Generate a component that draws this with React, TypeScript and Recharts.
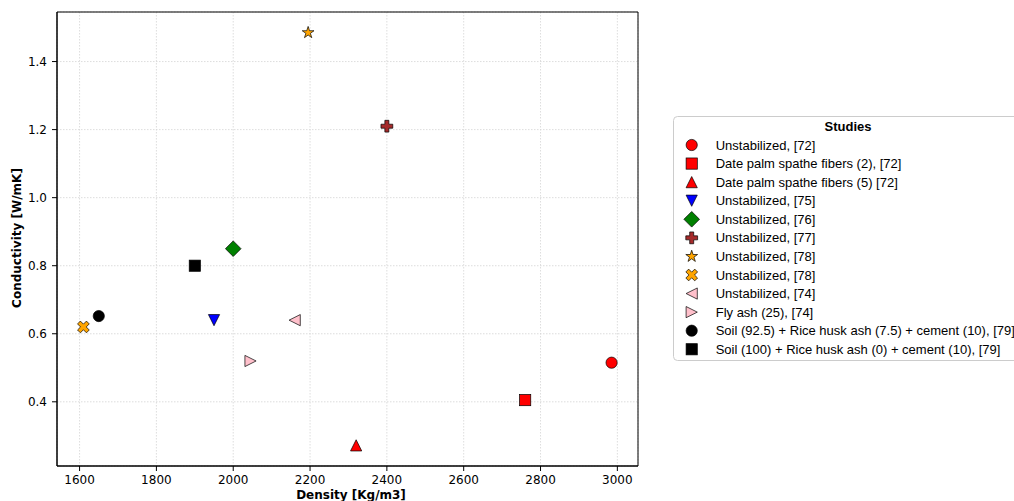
import React from 'react';
import {
  ScatterChart,
  Scatter,
  XAxis,
  YAxis,
  CartesianGrid,
  ReferenceArea,
} from 'recharts';

// Study labels, one per plotted point
const studies = [
  'Unstabilized, [72]',
  'Date palm spathe fibers (2), [72]',
  'Date palm spathe fibers (5) [72]',
  'Unstabilized, [75]',
  'Unstabilized, [76]',
  'Unstabilized, [77]',
  'Unstabilized, [78]',
  'Unstabilized, [78]',
  'Unstabilized, [74]',
  'Fly ash (25), [74]',
  'Soil (92.5) + Rice husk ash (7.5) + cement (10), [79]',
  'Soil (100) + Rice husk ash (0) + cement (10), [79]',
];

// Density [Kg/m3]
const density = [2985, 2760, 2320, 1950, 2000, 2400, 2195, 1610, 2160, 2045, 1650, 1900];

// Conductivity [W/mK]
const conductivity = [0.515, 0.405, 0.272, 0.64, 0.85, 1.21, 1.485, 0.62, 0.64, 0.52, 0.652, 0.8];

// Axis ticks
const xTicks = [1600, 1800, 2000, 2200, 2400, 2600, 2800, 3000];
const yTicks = [0.4, 0.6, 0.8, 1.0, 1.2, 1.4];

// Marker styles per study
const markerKinds = [
  'circle', 'square', 'triUp', 'triDown', 'diamond', 'plus',
  'star', 'cross', 'triLeft', 'triRight', 'circle', 'square',
];
const markerColors = [
  '#ff0000', '#ff0000', '#ff0000', '#0000ff', '#008000', '#a52a2a',
  '#ffa500', '#ffa500', '#ffc0cb', '#ffc0cb', '#000000', '#000000',
];

// Axis ranges padded by 5% of the data span on each side
const xMin = Math.min(...density);
const xMax = Math.max(...density);
const yMin = Math.min(...conductivity);
const yMax = Math.max(...conductivity);
const xPad = (xMax - xMin) * 0.05;
const yPad = (yMax - yMin) * 0.05;
const xDomain: [number, number] = [xMin - xPad, xMax + xPad];
const yDomain: [number, number] = [yMin - yPad, yMax + yPad];

const series = studies.map((name, i) => ({
  name,
  kind: markerKinds[i],
  color: markerColors[i],
  points: [{ x: density[i], y: conductivity[i] }],
}));

const TICK_FONT = 'DejaVu Sans';
const LEGEND_FONT = '"Liberation Sans", Arial, sans-serif';

type GlyphProps = { kind: string; cx: number; cy: number; color: string };

function MarkerGlyph({ kind, cx, cy, color }: GlyphProps) {
  const h = 5.6;
  const common = { fill: color, stroke: '#000', strokeWidth: 0.7 };
  const poly = (pts: number[][]) => (
    <polygon points={pts.map((p) => `${cx + p[0]},${cy + p[1]}`).join(' ')} {...common} />
  );
  switch (kind) {
    case 'circle':
      return <circle cx={cx} cy={cy} r={h} {...common} />;
    case 'square':
      return <rect x={cx - h} y={cy - h} width={2 * h} height={2 * h} {...common} />;
    case 'triUp':
      return poly([[0, -h], [-h, h], [h, h]]);
    case 'triDown':
      return poly([[0, h], [-h, -h], [h, -h]]);
    case 'triLeft':
      return poly([[-h, 0], [h, -h], [h, h]]);
    case 'triRight':
      return poly([[h, 0], [-h, -h], [-h, h]]);
    case 'diamond': {
      const d = 7.8;
      return poly([[0, -d], [d, 0], [0, d], [-d, 0]]);
    }
    case 'plus': {
      const a = 2;
      const L = 5.9;
      return poly([
        [-a, -L], [a, -L], [a, -a], [L, -a], [L, a], [a, a],
        [a, L], [-a, L], [-a, a], [-L, a], [-L, -a], [-a, -a],
      ]);
    }
    case 'cross': {
      const a = 2;
      const L = 6.3;
      const base = [
        [-a, -L], [a, -L], [a, -a], [L, -a], [L, a], [a, a],
        [a, L], [-a, L], [-a, a], [-L, a], [-L, -a], [-a, -a],
      ];
      const c = Math.SQRT1_2;
      return poly(base.map(([x, y]) => [x * c - y * c, x * c + y * c]));
    }
    case 'star': {
      const R = 6.2;
      const r = R * 0.382;
      const pts: number[][] = [];
      for (let k = 0; k < 10; k++) {
        const ang = -Math.PI / 2 + (k * Math.PI) / 5;
        const rad = k % 2 === 0 ? R : r;
        pts.push([rad * Math.cos(ang), rad * Math.sin(ang)]);
      }
      return poly(pts);
    }
    default:
      return null;
  }
}

function LegendBox() {
  const rowStart = 29;
  const rowStep = 18.57;
  return (
    <svg width={352} height={246} style={{ display: 'block' }}>
      <rect x={0.5} y={0.5} width={350} height={244} rx={4} ry={4} fill="#fff" stroke="#cccccc" />
      <text
        x={175}
        y={15.4}
        textAnchor="middle"
        fontFamily={LEGEND_FONT}
        fontWeight="bold"
        fontSize={13}
        fill="#000"
      >
        Studies
      </text>
      {series.map((s, i) => {
        const cy = rowStart + rowStep * i;
        return (
          <g key={i}>
            <MarkerGlyph kind={s.kind} cx={18.7} cy={cy} color={s.color} />
            <text x={42.7} y={cy + 4.6} fontFamily={LEGEND_FONT} fontSize={13} fill="#000">
              {s.name}
            </text>
          </g>
        );
      })}
    </svg>
  );
}

export default function App() {
  return (
    <div
      style={{
        position: 'absolute',
        left: 0,
        top: 0,
        width: 1014,
        height: 501,
        overflow: 'hidden',
        background: '#fff',
      }}
    >
      <ScatterChart
        width={1014}
        height={501}
        margin={{ top: 12, right: 376, bottom: 5, left: 12 }}
      >
        <CartesianGrid stroke="#d4d4d4" strokeDasharray="1.5 1.5" strokeWidth={0.8} />
        <XAxis
          type="number"
          dataKey="x"
          domain={xDomain}
          allowDataOverflow
          ticks={xTicks}
          height={30}
          tickSize={5}
          tickMargin={4}
          axisLine={{ stroke: '#000' }}
          tickLine={{ stroke: '#000' }}
          tick={{ fontFamily: TICK_FONT, fontSize: 12, fill: '#000' }}
          label={{
            content: () => (
              <text
                x={351}
                y={499}
                textAnchor="middle"
                fontFamily={TICK_FONT}
                fontWeight="bold"
                fontSize={12}
                fill="#000"
              >
                Density [Kg/m3]
              </text>
            ),
          }}
        />
        <YAxis
          type="number"
          dataKey="y"
          domain={yDomain}
          allowDataOverflow
          ticks={yTicks}
          width={45}
          tickSize={5}
          tickMargin={5}
          tickFormatter={(v: number) => v.toFixed(1)}
          axisLine={{ stroke: '#000' }}
          tickLine={{ stroke: '#000' }}
          tick={{ fontFamily: TICK_FONT, fontSize: 12, fill: '#000' }}
          label={{
            content: () => (
              <text
                transform="translate(21,238) rotate(-90)"
                textAnchor="middle"
                fontFamily={TICK_FONT}
                fontWeight="bold"
                fontSize={12}
                fill="#000"
              >
                Conductivity [W/mK]
              </text>
            ),
          }}
        />
        <ReferenceArea
          x1={xDomain[0]}
          x2={xDomain[1]}
          y1={yDomain[0]}
          y2={yDomain[1]}
          fill="none"
          fillOpacity={0}
          stroke="#000"
          strokeWidth={1}
          ifOverflow="visible"
        />
        {series.map((s, i) => (
          <Scatter
            key={i}
            name={s.name}
            data={s.points}
            isAnimationActive={false}
            legendType="none"
            shape={(p: any) => <MarkerGlyph kind={s.kind} cx={p.cx} cy={p.cy} color={s.color} />}
          />
        ))}
      </ScatterChart>
      <div style={{ position: 'absolute', left: 673, top: 116 }}>
        <LegendBox />
      </div>
    </div>
  );
}
